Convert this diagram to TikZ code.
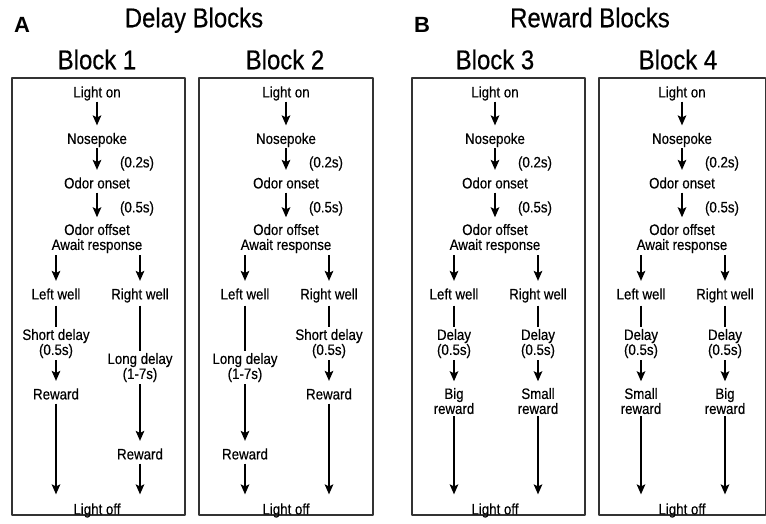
\documentclass[tikz,border=0pt]{standalone}
\usepackage{fontspec}
\setmainfont[FakeStretch=0.88,FakeBold=0.4]{Liberation Sans}
\newfontfamily\panfam{Liberation Sans}
\usetikzlibrary{arrows.meta}
\newcommand{\txtsize}{\fontsize{15.1}{15}\selectfont}
\newcommand{\ttlsize}{\fontsize{27.2}{30}\selectfont}
\newcommand{\pansize}{\panfam\fontsize{22}{26}\selectfont\bfseries}

\begin{document}
\begin{tikzpicture}[x=1pt,y=-1pt,>={Stealth[length=10pt,width=8.5pt,inset=2pt]},line join=round,font=\txtsize,
		lab/.style={inner sep=0pt,text height=10.8pt,text depth=0pt},
		labtwo/.style={inner sep=0pt,align=center,anchor=north},
		ttl/.style={inner sep=0pt,text height=19.5pt,text depth=0pt,font=\ttlsize},
		pan/.style={inner sep=0pt,text height=15.8pt,text depth=0pt,font=\pansize},
		arr/.style={->,line width=2pt,shorten <=4pt,shorten >=7.5pt},
		arrb/.style={arr,shorten <=2pt},
		seg/.style={line width=2pt,shorten <=6pt,shorten >=2pt},
		blockbox/.style={draw=black!80,line width=1.4pt}]
	\useasboundingbox (0,0) rectangle (766,523);
	% panel titles
	\node[pan] (pA) at (22,24.5) {A};
	\node[ttl] (tA) at (194,17.5) {Delay Blocks};
	\node[pan] (pB) at (422,24.5) {B};
	\node[ttl] (tB) at (590,17.5) {Reward Blocks};
	\node[ttl] (b1) at (97,59.5) {Block 1};
	\node[ttl] (b2) at (285,59.5) {Block 2};
	\node[ttl] (b3) at (495,59.5) {Block 3};
	\node[ttl] (b4) at (678,59.5) {Block 4};
	% boxes
	\draw[blockbox] (12,78) rectangle (185,515);
	\draw[blockbox] (199,78) rectangle (373,515);
	\draw[blockbox] (412,78) rectangle (585,515);
	\draw[blockbox] (599,78) rectangle (765.3,515);
	% same start in every block
	\foreach \c/\i in {97/1,286/2,495/3,682/4}{
		\node[lab] (on\i) at (\c,92) {Light on};
		\node[lab] (poke\i) at (\c,138.5) {Nosepoke};
		\node[lab] (onset\i) at (\c,183) {Odor onset};
		\node[labtwo] (offset\i) at (\c,223.8) {Odor offset\\Await response};
		\node[lab] (tt\i) at (\c+40,162) {(0.2s)};
		\node[lab] (tf\i) at (\c+40,207) {(0.5s)};
		\node[lab] (lw\i) at (\c-41,294) {Left well};
		\node[lab] (rw\i) at (\c+43,294) {Right well};
		\node[lab] (off\i) at (\c,509) {Light off};
		\draw[arr] (on\i) -- (poke\i);
		\draw[arr] (poke\i) -- (onset\i);
		\draw[arr,shorten >=6.5pt] (onset\i) -- (offset\i);
		\draw[arrb] (offset\i.south -| lw\i) -- (lw\i);
		\draw[arrb] (offset\i.south -| rw\i) -- (rw\i);
	}
	% block 1
	\node[labtwo] (sd1) at (56,328.8) {Short delay\\(0.5s)};
	\node[lab] (rl1) at (56,394) {Reward};
	\node[labtwo] (ld1) at (140,352.8) {Long delay\\(1-7s)};
	\node[lab] (rr1) at (140,454) {Reward};
	\draw[seg] (lw1) -- (sd1);
	\draw[arrb] (sd1) -- (rl1);
	\draw[arr,shorten >=9pt] (rl1) -- (rl1 |- off1.north);
	\draw[seg] (rw1) -- (ld1);
	\draw[arrb] (ld1) -- (rr1);
	\draw[arr,shorten >=9pt] (rr1) -- (rr1 |- off1.north);
	% block 2
	\node[labtwo] (ld2) at (245,352.8) {Long delay\\(1-7s)};
	\node[lab] (rl2) at (245,454) {Reward};
	\node[labtwo] (sd2) at (329,328.8) {Short delay\\(0.5s)};
	\node[lab] (rr2) at (329,394) {Reward};
	\draw[seg] (lw2) -- (ld2);
	\draw[arrb] (ld2) -- (rl2);
	\draw[arr,shorten >=9pt] (rl2) -- (rl2 |- off2.north);
	\draw[seg] (rw2) -- (sd2);
	\draw[arrb] (sd2) -- (rr2);
	\draw[arr,shorten >=9pt] (rr2) -- (rr2 |- off2.north);
	% block 3
	\node[labtwo] (dl3) at (454,328.8) {Delay\\(0.5s)};
	\node[labtwo] (rl3) at (454,387.8) {Big\\reward};
	\node[labtwo] (dr3) at (538,328.8) {Delay\\(0.5s)};
	\node[labtwo] (rr3) at (538,387.8) {Small\\reward};
	\draw[seg] (lw3) -- (dl3);
	\draw[arrb,shorten >=6.5pt] (dl3) -- (rl3);
	\draw[arrb,shorten >=9pt] (rl3) -- (rl3 |- off3.north);
	\draw[seg] (rw3) -- (dr3);
	\draw[arrb,shorten >=6.5pt] (dr3) -- (rr3);
	\draw[arrb,shorten >=9pt] (rr3) -- (rr3 |- off3.north);
	% block 4
	\node[labtwo] (dl4) at (641,328.8) {Delay\\(0.5s)};
	\node[labtwo] (rl4) at (641,387.8) {Small\\reward};
	\node[labtwo] (dr4) at (725,328.8) {Delay\\(0.5s)};
	\node[labtwo] (rr4) at (725,387.8) {Big\\reward};
	\draw[seg] (lw4) -- (dl4);
	\draw[arrb,shorten >=6.5pt] (dl4) -- (rl4);
	\draw[arrb,shorten >=9pt] (rl4) -- (rl4 |- off4.north);
	\draw[seg] (rw4) -- (dr4);
	\draw[arrb,shorten >=6.5pt] (dr4) -- (rr4);
	\draw[arrb,shorten >=9pt] (rr4) -- (rr4 |- off4.north);
\end{tikzpicture}
\end{document}
